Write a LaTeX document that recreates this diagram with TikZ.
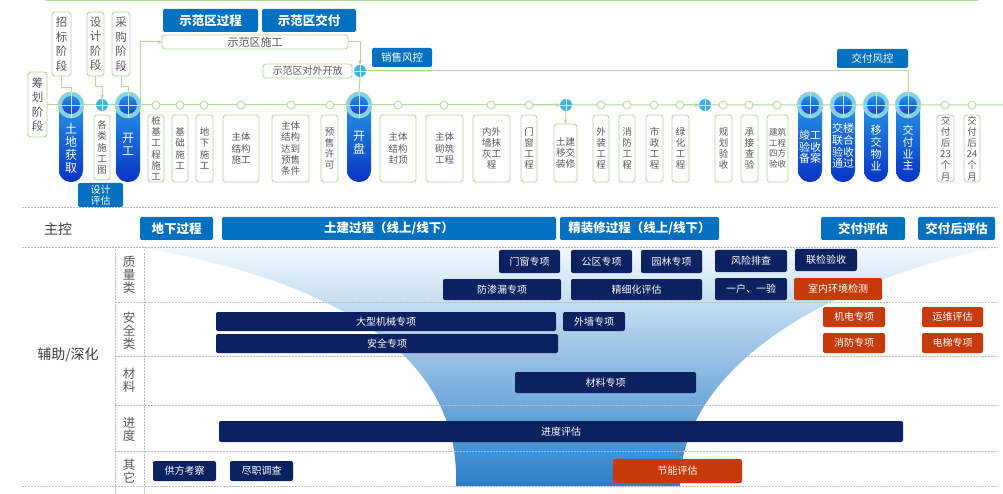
\documentclass[tikz,border=0pt]{standalone}
\usepackage{fontspec}
\setmainfont{Noto Sans CJK SC}
\usetikzlibrary{arrows.meta}
\definecolor{gl}{HTML}{B4D79C}
\definecolor{tg}{HTML}{595959}
\definecolor{lg}{HTML}{404040}
\definecolor{mb}{HTML}{0070C0}
\definecolor{nv}{HTML}{0B2160}
\definecolor{og}{HTML}{C83A0A}
\definecolor{pt}{HTML}{2BA3EC}
\definecolor{pb}{HTML}{0633C4}
\definecolor{rc}{HTML}{7ED2F0}
\definecolor{it}{HTML}{2A8BE6}
\definecolor{ib}{HTML}{0D4CC6}
\definecolor{cy}{HTML}{3BB4E6}
\definecolor{dg}{HTML}{BBBBBB}
\definecolor{fu1}{HTML}{F2F9FD}
\definecolor{fu2}{HTML}{A8D6F0}
\definecolor{fu3}{HTML}{2A7FC8}
\newcommand\bx[7]{\node[#6, minimum width={#4-#2}, minimum height={#5-#3}] (#1) at ({(#2+#4)/2},{(#3+#5)/2}) {#7};}
\newcommand\ringat[3]{%
 \node[circle, fill=rc, draw=gl, line width=0.6pt, minimum size=26pt, inner sep=0pt] (#1) at (#2,#3) {};
 \node[circle, top color=it, bottom color=ib, minimum size=18pt, inner sep=0pt] (#1i) at (#2,#3) {};
 \draw[draw=gl!60!white, line width=0.9pt] (#1.west) -- (#1.east) (#1.north) -- (#1.south);}
\newcommand\cyat[3]{%
 \node[circle, fill=cy, minimum size=12pt, inner sep=0pt] (#1) at (#2,#3) {};
 \draw[white!75!cy, line width=0.7pt] (#1.west) -- (#1.east) (#1.north) -- (#1.south);}
\tikzset{
 gline/.style={draw=gl, line width=1pt},
 arr/.style={-{Stealth[length=4.5pt,width=4pt]}},
 wb/.style={draw=gl, line width=0.9pt, fill=white, rounded corners=3pt, inner sep=0pt, outer sep=0pt, text=tg, align=center, font=\fontsize{9.5}{11.2}\selectfont},
 tb/.style={wb, font=\fontsize{11.5}{14.5}\selectfont},
 bb/.style={fill=mb, text=white, rounded corners=2pt, inner sep=0pt, outer sep=0pt, align=center, font=\bfseries\fontsize{12.5}{14}\selectfont},
 bn/.style={bb, font=\fontsize{10.5}{12}\selectfont},
 nb/.style={fill=nv, text=white, rounded corners=2pt, inner sep=0pt, outer sep=0pt, font=\fontsize{10}{12}\selectfont},
 ob/.style={nb, fill=og},
 pill/.style={rounded corners=11.5pt, top color=pt, bottom color=pb, inner sep=0pt, minimum width=24pt, minimum height=90pt},
 ptxt/.style={text=white, align=center, inner sep=0pt, font=\fontsize{12}{13}\selectfont},
 ptxs/.style={ptxt, font=\fontsize{11}{11.7}\selectfont},
 oc/.style={circle, draw=gl, fill=white, line width=0.8pt, minimum size=8pt, inner sep=0pt},
 dl/.style={draw=dg, line width=0.6pt, dash pattern=on 1.5pt off 1.5pt},
 lab/.style={text=lg, font=\fontsize{14}{16}\selectfont, inner sep=0pt},
 cat/.style={text=tg, align=center, font=\fontsize{12.5}{13}\selectfont, inner sep=0pt},
}
\begin{document}
\begin{tikzpicture}[x=1pt,y=-1pt]
\useasboundingbox (0,0) rectangle (1003,494);
\fill[white] (0,0) rectangle (1003,494);
% funnel background
\shade[top color=fu1, middle color=fu2, bottom color=fu3] (144,248) -- (990,248) .. controls (800,290) and (680,380) .. (680,486) -- (456,486) .. controls (460,380) and (380,290) .. (144,248) -- cycle;
% grid lines
\draw[dl] (22,207) -- (998,207);
\draw[dl] (22,247) -- (998,247);
\draw[dl] (115,302) -- (998,302);
\draw[dl] (115,356) -- (998,356);
\draw[dl] (115,405) -- (998,405);
\draw[dl] (115,451) -- (998,451);
\draw[dl] (22,486) -- (998,486);
\draw[dl] (115,247) -- (115,494);
\draw[dl] (144,247) -- (144,494);
% top line
\draw[gline] (45,1) -- (978,1);
% top vertical boxes
\bx{chb}{28}{72}{47}{137}{tb}{筹\\划\\阶\\段}
\bx{zb}{52}{12}{71}{76}{tb}{招\\标\\阶\\段}
\bx{sj}{87}{12}{104}{76}{tb}{设\\计\\阶\\段}
\bx{cg}{112}{12}{130}{76}{tb}{采\\购\\阶\\段}
% main line
\draw[gline] (chb.east) -- (1003,105);
% demo zone
\bx{sfgc}{163}{9}{258}{32}{bb}{示范区过程}
\bx{sfjf}{262}{9}{356}{32}{bb}{示范区交付}
\bx{sfsg}{162}{35}{348}{49}{wb, font=\fontsize{11}{12}\selectfont}{示范区施工}
\bx{sfkf}{263}{64}{352}{78}{wb, font=\fontsize{10}{12}\selectfont}{示范区对外开放}
\bx{xsfk}{372}{48}{432}{67}{bn}{销售风控}
\bx{jffk}{837}{49}{908}{68}{bn}{交付风控}
% pills
\node[pill] (p1) at (71,137) {};
\node[pill] (p2) at (128,137) {};
\node[pill] (p3) at (359,137) {};
\node[pill] (p4) at (810,137) {};
\node[pill] (p5) at (843,137) {};
\node[pill] (p6) at (876,137) {};
\node[pill] (p7) at (908,137) {};
\node[ptxt] (t1) at (71,148) {土\\地\\获\\取};
\node[ptxt] (t2) at (128,144) {开\\工};
\node[ptxt] (t3) at (359,143) {开\\盘};
\node[ptxs] (t4) at (810,147) {竣工\\验收\\备案};
\node[ptxs] (t5) at (843,146) {交楼\\联合\\验收\\通过};
\node[ptxs] (t6) at (876,148) {移\\交\\物\\业};
\node[ptxs] (t7) at (908,148) {交\\付\\业\\主};
\coordinate (kg) at (140,105);
% connectors (top)
\draw[gline] (zb.south) -- ++(0,12) -| (71,92);
\draw[gline] (cg.south) -- ++(0,11) -| (128,92);
\draw[gline, arr] (kg) |- (sfsg.west);
\ringat{r1}{71}{105}
\ringat{r2}{128}{105}
\ringat{r3}{359}{105}
\ringat{r4}{810}{105}
\ringat{r5}{843}{105}
\ringat{r6}{876}{105}
\ringat{r7}{908}{105}
\cyat{cy1}{102}{105}
\cyat{cy2}{360}{71}
\cyat{cy3}{566}{105}
\cyat{cy4}{705}{105}
\draw[gline, arr] (sj.south) -- ++(0,11) -| (cy1.north);
\draw[gline, arr] (sfsg.east) -| (cy2.north);
\draw[gline] (cy2.south) -- (r3.north);
\draw[gline] (cy2.east) -| (r7.north);
% boxes under line
\bx{glt}{94}{115}{110}{180}{wb}{各\\类\\施\\工\\图}
\bx{zj}{148}{115}{164}{182}{wb}{桩\\基\\工\\程\\施\\工}
\bx{jc}{172}{115}{188}{182}{wb}{基\\础\\施\\工}
\bx{dx}{196}{115}{213}{182}{wb}{地\\下\\施\\工}
\bx{ztsg}{223}{115}{259}{182}{wb}{主体\\结构\\施工}
\bx{ztys}{272}{115}{309}{182}{wb}{主体\\结构\\达到\\预售\\条件}
\bx{ys}{321}{115}{338}{182}{wb}{预\\售\\许\\可}
\bx{fd}{380}{115}{416}{182}{wb}{主体\\结构\\封顶}
\bx{qz}{426}{115}{463}{182}{wb}{主体\\砌筑\\工程}
\bx{mh}{473}{115}{510}{182}{wb}{内外\\墙抹\\灰工\\程}
\bx{mc}{521}{115}{537}{182}{wb}{门\\窗\\工\\程}
\bx{tjyj}{554}{124}{577}{182}{wb}{土建\\移交\\装修}
\bx{wz}{593}{115}{609}{182}{wb}{外\\装\\工\\程}
\bx{xf}{619}{115}{635}{182}{wb}{消\\防\\工\\程}
\bx{sz}{646}{115}{663}{182}{wb}{市\\政\\工\\程}
\bx{lh}{672}{115}{689}{182}{wb}{绿\\化\\工\\程}
\bx{gh}{715}{115}{732}{182}{wb}{规\\划\\验\\收}
\bx{cj}{741}{115}{758}{182}{wb}{承\\接\\查\\验}
\bx{sf}{767}{115}{788}{182}{wb, font=\fontsize{8.5}{10.5}\selectfont}{建筑\\工程\\四方\\验收}
\bx{j23}{937}{115}{954}{182}{wb}{交\\付\\后\\23\\个\\月}
\bx{j24}{964}{115}{980}{182}{wb}{交\\付\\后\\24\\个\\月}
\bx{sjpg}{78}{183}{123}{207}{bn, font=\fontsize{10}{11}\selectfont}{设计\\评估}
% open circles
\node[oc] (ozj) at (156,105) {};
\node[oc] (ojc) at (180,105) {};
\node[oc] (odx) at (204,105) {};
\node[oc] (oztsg) at (241,105) {};
\node[oc] (oztys) at (291,105) {};
\node[oc] (oys) at (330,105) {};
\node[oc] (ofd) at (398,105) {};
\node[oc] (oqz) at (444,105) {};
\node[oc] (omh) at (491,105) {};
\node[oc] (omc) at (529,105) {};
\node[oc] (owz) at (601,105) {};
\node[oc] (oxf) at (627,105) {};
\node[oc] (osz) at (654,105) {};
\node[oc] (olh) at (680,105) {};
\node[oc] (ogh) at (723,105) {};
\node[oc] (ocj) at (749,105) {};
\node[oc] (osf) at (777,105) {};
\node[oc] (oj23) at (945,105) {};
\node[oc] (oj24) at (972,105) {};
\draw[gline, arr] (omc.east) -- (cy3.west);
\draw[gline, arr] (olh.east) -- (cy4.west);
\draw[gline, arr] (cy3.south) -- (tjyj.north);
% labels
\node[lab] (zk) at (58,229) {主控};
\node[lab] (fz) at (68,355) {辅助/深化};
\node[cat] (c1) at (129,275) {质\\量\\类};
\node[cat] (c2) at (129,331) {安\\全\\类};
\node[cat] (c3) at (129,380) {材\\料};
\node[cat] (c4) at (129,429) {进\\度};
\node[cat] (c5) at (129,471) {其\\它};
% main control row
\bx{dxgc}{140}{217}{213}{240}{bb}{地下过程}
\bx{tjgc}{222}{217}{556}{240}{bb}{土建过程（线上/线下）}
\bx{jzx}{560}{217}{719}{240}{bb}{精装修过程（线上/线下）}
\bx{jfpg}{821}{217}{905}{240}{bb}{交付评估}
\bx{jfh}{918}{217}{995}{240}{bb}{交付后评估}
% quality
\bx{n1}{499}{250}{560}{273}{nb}{门窗专项}
\bx{n2}{571}{250}{632}{273}{nb}{公区专项}
\bx{n3}{641}{250}{702}{273}{nb}{园林专项}
\bx{n4}{715}{250}{787}{272}{nb}{风险排查}
\bx{n5}{795}{249}{857}{271}{nb}{联检验收}
\bx{n6}{443}{279}{561}{300}{nb}{防渗漏专项}
\bx{n7}{571}{279}{702}{300}{nb}{精细化评估}
\bx{n8}{715}{278}{787}{300}{nb}{一户、一验}
\bx{o1}{794}{278}{882}{300}{ob}{室内环境检测}
% safety
\bx{n9}{216}{312}{556}{331}{nb}{大型机械专项}
\bx{n10}{563}{312}{625}{331}{nb}{外墙专项}
\bx{o2}{823}{307}{885}{327}{ob}{机电专项}
\bx{o3}{922}{307}{983}{327}{ob}{运维评估}
\bx{n11}{216}{334}{558}{353}{nb}{安全专项}
\bx{o4}{823}{333}{885}{353}{ob}{消防专项}
\bx{o5}{922}{333}{983}{353}{ob}{电梯专项}
% material, progress, other
\bx{n12}{515}{372}{696}{393}{nb}{材料专项}
\bx{n13}{219}{421}{903}{442}{nb}{进度评估}
\bx{n14}{153}{461}{216}{481}{nb}{供方考察}
\bx{n15}{230}{461}{293}{481}{nb}{尽职调查}
\bx{o6}{613}{459}{742}{483}{ob}{节能评估}
\end{tikzpicture}
\end{document}
